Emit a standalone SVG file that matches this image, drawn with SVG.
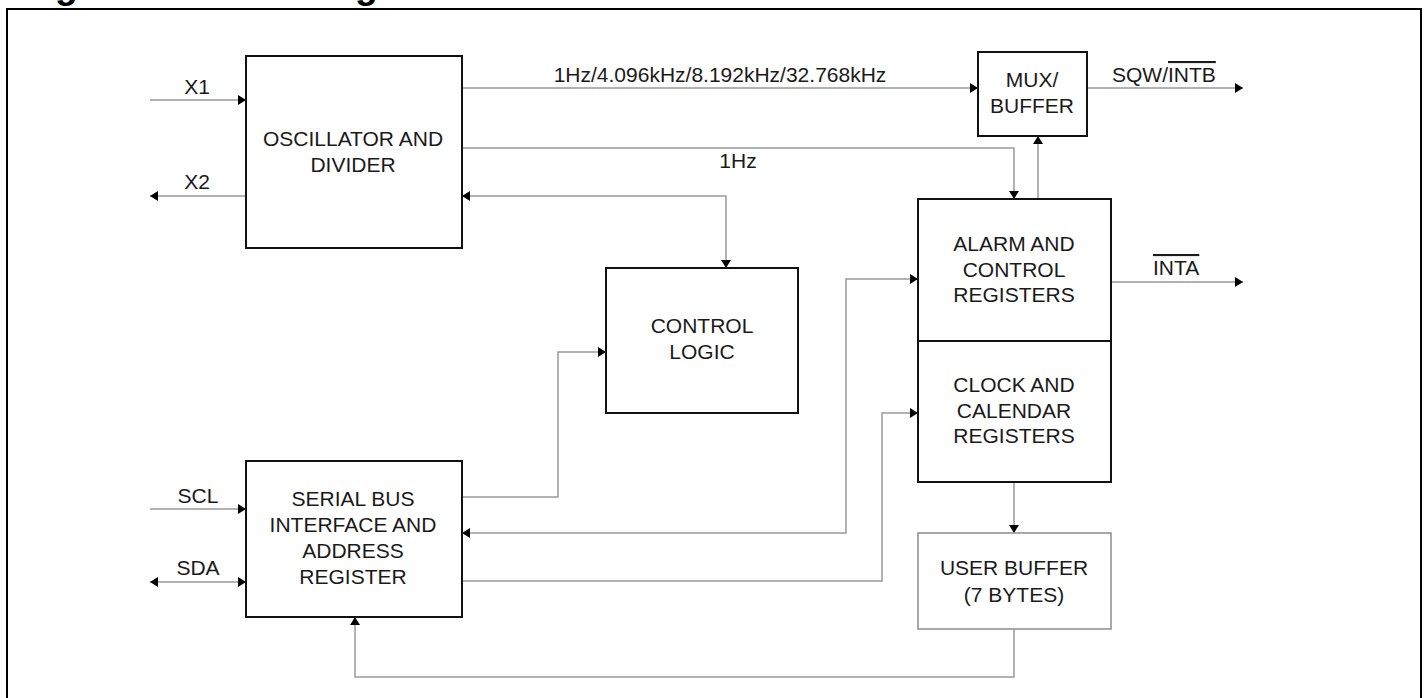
<svg xmlns="http://www.w3.org/2000/svg" width="1427" height="698" viewBox="0 0 1427 698">
<style>
.box{fill:#fff;stroke:#111;stroke-width:2}
.ubox{fill:#fff;stroke:#8c8c8c;stroke-width:1.5}
.t{font-family:"Liberation Sans",Arial,sans-serif;font-size:21px;fill:#1a1a1a;text-anchor:middle}
.c{fill:none;stroke:#999;stroke-width:1.5}
.ol{text-decoration:overline}
</style>
<defs>
<marker id="arr" viewBox="0 0 8 10" refX="8" refY="5" markerWidth="8" markerHeight="10" markerUnits="userSpaceOnUse" orient="auto-start-reverse">
<path d="M0,0 L8,5 L0,10 z" fill="#000"/>
</marker>
</defs>
<rect width="1427" height="698" fill="#fff"/>
<text x="22" y="-2" style="font-family:'Liberation Sans',Arial,sans-serif;font-size:37px;font-weight:bold;fill:#000">Figure 1. Block Diagram</text>
<rect x="7" y="9" width="1414" height="720" fill="none" stroke="#000" stroke-width="2"/>

<g id="connectors">
<path class="c" d="M150,100 H246" marker-end="url(#arr)"/>
<path class="c" d="M246,196 H150" marker-end="url(#arr)"/>
<path class="c" d="M462,88 H978" marker-end="url(#arr)"/>
<path class="c" d="M462,148 H1014 V199" marker-end="url(#arr)"/>
<path class="c" d="M726,268 V196 H462" marker-start="url(#arr)" marker-end="url(#arr)"/>
<path class="c" d="M1038,199 V136" marker-end="url(#arr)"/>
<path class="c" d="M1087,88 H1243" marker-end="url(#arr)"/>
<path class="c" d="M1111,282 H1243" marker-end="url(#arr)"/>
<path class="c" d="M462,497 H558 V352 H606" marker-end="url(#arr)"/>
<path class="c" d="M918,279 H846 V533 H462" marker-start="url(#arr)" marker-end="url(#arr)"/>
<path class="c" d="M462,581 H882 V413 H918" marker-end="url(#arr)"/>
<path class="c" d="M1014,482 V533" marker-end="url(#arr)"/>
<path class="c" d="M1014,629 V677 H355 V617" marker-end="url(#arr)"/>
<path class="c" d="M150,509 H246" marker-end="url(#arr)"/>
<path class="c" d="M150,582 H246" marker-start="url(#arr)" marker-end="url(#arr)"/>
</g>

<g id="labels">
<text class="t" x="197" y="94">X1</text>
<text class="t" x="197" y="189">X2</text>
<text class="t" x="720" y="82">1Hz/4.096kHz/8.192kHz/32.768kHz</text>
<text class="t" x="738" y="168">1Hz</text>
<text class="t" x="1112" y="82" style="text-anchor:start">SQW/<tspan class="ol">INTB</tspan></text>
<text class="t" x="1153" y="275" style="text-anchor:start"><tspan class="ol">INTA</tspan></text>
<text class="t" x="198" y="503">SCL</text>
<text class="t" x="198" y="575">SDA</text>
</g>

<g id="oscillator">
<rect class="box" x="246" y="56" width="216" height="192"/>
<text class="t" x="353" y="146">OSCILLATOR AND</text>
<text class="t" x="353" y="172">DIVIDER</text>
</g>

<g id="mux">
<rect class="box" x="978" y="52" width="109" height="84"/>
<text class="t" x="1032" y="87">MUX/</text>
<text class="t" x="1032" y="113">BUFFER</text>
</g>

<g id="control-logic">
<rect class="box" x="606" y="268" width="192" height="145"/>
<text class="t" x="702" y="333">CONTROL</text>
<text class="t" x="702" y="359">LOGIC</text>
</g>

<g id="alarm">
<rect class="box" x="918" y="199" width="193" height="142"/>
<text class="t" x="1014" y="251">ALARM AND</text>
<text class="t" x="1014" y="277">CONTROL</text>
<text class="t" x="1014" y="302">REGISTERS</text>
</g>

<g id="clock">
<rect class="box" x="918" y="341" width="193" height="141"/>
<text class="t" x="1014" y="392">CLOCK AND</text>
<text class="t" x="1014" y="418">CALENDAR</text>
<text class="t" x="1014" y="443">REGISTERS</text>
</g>

<g id="user-buffer">
<rect class="ubox" x="918" y="533" width="193" height="96"/>
<text class="t" x="1014" y="575">USER BUFFER</text>
<text class="t" x="1014" y="602">(7 BYTES)</text>
</g>

<g id="serial">
<rect class="box" x="246" y="461" width="216" height="156"/>
<text class="t" x="353" y="506">SERIAL BUS</text>
<text class="t" x="353" y="532">INTERFACE AND</text>
<text class="t" x="353" y="558">ADDRESS</text>
<text class="t" x="353" y="584">REGISTER</text>
</g>
</svg>
